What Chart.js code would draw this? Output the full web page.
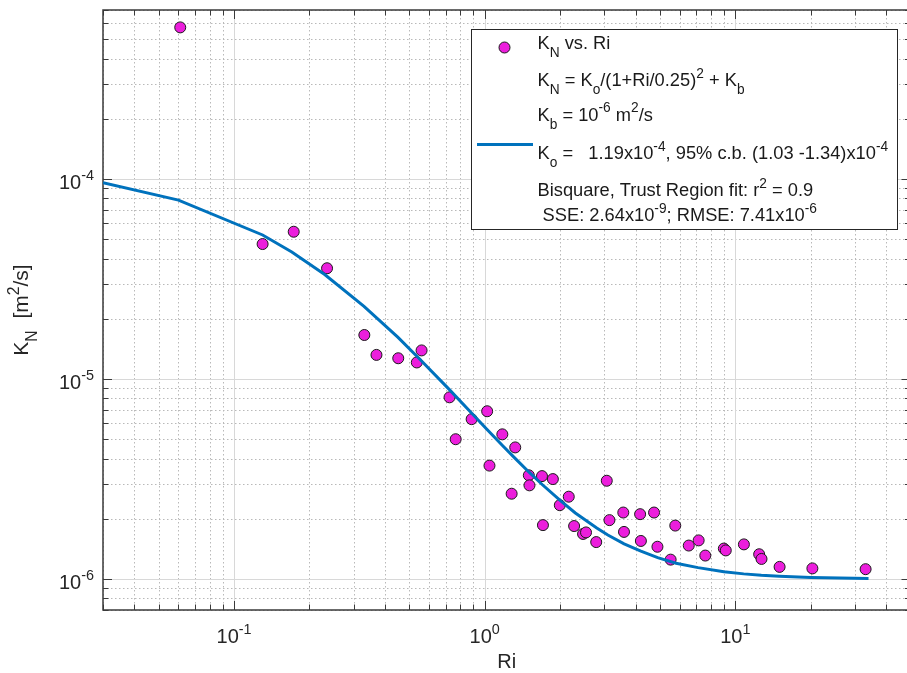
<!DOCTYPE html>
<html>
<head>
<meta charset="utf-8">
<script src="https://cdn.jsdelivr.net/npm/chart.js@4.4.1/dist/chart.umd.min.js"></script>
<style>
  html, body { margin: 0; padding: 0; background: #fff; overflow: hidden; }
  #contenedor { width: 917px; height: 673px; }
</style>
</head>
<body>
<div id="contenedor"><canvas id="graficoKN" width="917" height="673"></canvas></div>
<script>
// Mediciones: Ri y difusividad K_N [m2/s]
const ri = [0.061, 0.130, 0.173, 0.235, 0.331, 0.370, 0.452, 0.536, 0.560, 0.724,
  0.766, 0.887, 1.023, 1.045, 1.176, 1.281, 1.324, 1.50, 1.509, 1.693,
  1.708, 1.871, 1.994, 2.165, 2.274, 2.469, 2.537, 2.786, 3.07, 3.146,
  3.573, 3.596, 4.17, 4.20, 4.74, 4.89, 5.52, 5.76, 6.52, 7.14,
  7.59, 9.0, 9.16, 10.82, 12.45, 12.72, 15.02, 20.3, 33.1];
const kn = [5.73e-4, 4.73e-5, 5.45e-5, 3.58e-5, 1.66e-5, 1.32e-5, 1.27e-5, 1.21e-5, 1.39e-5, 8.1e-6,
  5.0e-6, 6.3e-6, 6.9e-6, 3.69e-6, 5.29e-6, 2.67e-6, 4.55e-6, 3.30e-6, 2.94e-6, 3.27e-6,
  1.86e-6, 3.16e-6, 2.34e-6, 2.58e-6, 1.84e-6, 1.68e-6, 1.71e-6, 1.53e-6, 3.10e-6, 1.97e-6,
  2.15e-6, 1.72e-6, 2.11e-6, 1.55e-6, 2.15e-6, 1.45e-6, 1.25e-6, 1.85e-6, 1.47e-6, 1.56e-6,
  1.31e-6, 1.42e-6, 1.39e-6, 1.49e-6, 1.33e-6, 1.26e-6, 1.15e-6, 1.13e-6, 1.12e-6];

// Curva ajustada (Bisquare)
const ajusteRi = [0.03, 0.06, 0.13, 0.17, 0.23, 0.33, 0.45, 0.55, 0.72, 0.89,
  1.02, 1.18, 1.32, 1.5, 1.7, 2.0, 2.3, 2.8, 3.1, 3.6,
  4.2, 4.9, 5.8, 7.1, 9.0, 10.8, 12.7, 15, 20, 34];
const ajusteKn = [9.59e-5, 7.84e-5, 5.25e-5, 4.32e-5, 3.33e-5, 2.31e-5, 1.62e-5, 1.26e-5, 8.9e-6, 6.72e-6,
  5.61e-6, 4.64e-6, 4.02e-6, 3.43e-6, 2.96e-6, 2.47e-6, 2.14e-6, 1.80e-6, 1.66e-6, 1.50e-6,
  1.38e-6, 1.28e-6, 1.20e-6, 1.14e-6, 1.087e-6, 1.061e-6, 1.044e-6, 1.032e-6, 1.018e-6, 1.006e-6];

// Etiquetas de los ejes (base 10, exponente)
const ticksX = [[0.1, '-1'], [1, '0'], [10, '1']];
const ticksY = [[1e-6, '-6'], [1e-5, '-5'], [1e-4, '-4']];

// Texto de la leyenda: [texto, '' | 'sub' | 'sup']
const leyendaPuntos = [['K'], ['N', 'sub'], [' vs. Ri']];
const leyendaAjuste = [
  [['K'], ['N', 'sub'], [' = K'], ['o', 'sub'], ['/(1+Ri/0.25)'], ['2', 'sup'], [' + K'], ['b', 'sub']],
  [['K'], ['b', 'sub'], [' = 10'], ['-6', 'sup'], [' m'], ['2', 'sup'], ['/s']],
  [['K'], ['o', 'sub'], [' =   1.19x10'], ['-4', 'sup'], [', 95% c.b. (1.03 -1.34)x10'], ['-4', 'sup']],
  [['Bisquare, Trust Region fit: r'], ['2', 'sup'], [' = 0.9']],
  [[' SSE: 2.64x10'], ['-9', 'sup'], ['; RMSE: 7.41x10'], ['-6', 'sup']]
];

const FUENTE = '"Liberation Sans", Arial, Helvetica, sans-serif';
const COLOR_PUNTO = '#EC1EDC';
const COLOR_AJUSTE = '#0072BD';
const COLOR_EJE = '#3a3a3a';

const setFont = (ctx, tam) => { ctx.font = `${tam}px ${FUENTE}`; };

const anchoRico = (ctx, partes, tam, esc = 0.75) => {
  let w = 0;
  partes.forEach(([t, modo]) => {
    setFont(ctx, modo ? tam * esc : tam);
    w += ctx.measureText(t).width;
  });
  return w;
};

const textoRico = (ctx, partes, x, y, tam, esc = 0.75) => {
  let cx = x;
  ctx.textAlign = 'left';
  ctx.textBaseline = 'alphabetic';
  partes.forEach(([t, modo]) => {
    setFont(ctx, modo ? tam * esc : tam);
    const dy = modo === 'sub' ? tam * 0.45 : modo === 'sup' ? -tam * 0.45 : 0;
    ctx.fillText(t, cx, y + dy);
    cx += ctx.measureText(t).width;
  });
  return cx - x;
};

// valores 1..9 x 10^n dentro del rango de la escala
const valoresLog = (min, max) => {
  const out = [];
  for (let d = Math.floor(Math.log10(min)); d <= Math.ceil(Math.log10(max)); d++) {
    for (let m = 1; m <= 9; m++) {
      const v = parseFloat((m * Math.pow(10, d)).toPrecision(3));
      if (v >= min * 0.999 && v <= max * 1.001) out.push({ v, mayor: m === 1 });
    }
  }
  return out;
};

const ejesMatlab = {
  id: 'ejesMatlab',
  beforeDatasetsDraw(chart) {
    const { ctx, chartArea: a, scales: { x, y } } = chart;
    const vx = valoresLog(x.min, x.max);
    const vy = valoresLog(y.min, y.max);
    ctx.save();

    // rejilla menor punteada
    ctx.strokeStyle = '#b9b9b9';
    ctx.lineWidth = 1;
    ctx.setLineDash([1.5, 2.5]);
    vx.filter(t => !t.mayor).forEach(t => {
      const px = Math.round(x.getPixelForValue(t.v)) + 0.5;
      ctx.beginPath(); ctx.moveTo(px, a.top); ctx.lineTo(px, a.bottom); ctx.stroke();
    });
    vy.filter(t => !t.mayor).forEach(t => {
      const py = Math.round(y.getPixelForValue(t.v)) + 0.5;
      ctx.beginPath(); ctx.moveTo(a.left, py); ctx.lineTo(a.right, py); ctx.stroke();
    });

    // rejilla mayor
    ctx.setLineDash([]);
    ctx.strokeStyle = '#d8d8d8';
    vx.filter(t => t.mayor).forEach(t => {
      const px = Math.round(x.getPixelForValue(t.v)) + 0.5;
      ctx.beginPath(); ctx.moveTo(px, a.top); ctx.lineTo(px, a.bottom); ctx.stroke();
    });
    vy.filter(t => t.mayor).forEach(t => {
      const py = Math.round(y.getPixelForValue(t.v)) + 0.5;
      ctx.beginPath(); ctx.moveTo(a.left, py); ctx.lineTo(a.right, py); ctx.stroke();
    });

    // marcas hacia dentro
    ctx.strokeStyle = COLOR_EJE;
    ctx.lineWidth = 1;
    vx.forEach(t => {
      const px = Math.round(x.getPixelForValue(t.v)) + 0.5;
      const l = t.mayor ? 9 : 5.5;
      ctx.beginPath();
      ctx.moveTo(px, a.bottom); ctx.lineTo(px, a.bottom - l);
      ctx.moveTo(px, a.top); ctx.lineTo(px, a.top + l);
      ctx.stroke();
    });
    vy.forEach(t => {
      const py = Math.round(y.getPixelForValue(t.v)) + 0.5;
      const l = t.mayor ? 9 : 5.5;
      ctx.beginPath();
      ctx.moveTo(a.left, py); ctx.lineTo(a.left + l, py);
      ctx.moveTo(a.right, py); ctx.lineTo(a.right - l, py);
      ctx.stroke();
    });

    // caja de ejes
    ctx.lineWidth = 1.5;
    ctx.strokeRect(a.left, a.top, a.right - a.left, a.bottom - a.top);

    // etiquetas de las marcas
    ctx.fillStyle = '#262626';
    const tam = 20;
    ticksX.forEach(([v, exp]) => {
      const partes = [['10'], [exp, 'sup']];
      const w = anchoRico(ctx, partes, tam, 0.72);
      textoRico(ctx, partes, x.getPixelForValue(v) - w / 2, 643, tam, 0.72);
    });
    ticksY.forEach(([v, exp]) => {
      const partes = [['10'], [exp, 'sup']];
      const w = anchoRico(ctx, partes, tam, 0.72);
      textoRico(ctx, partes, a.left - 9 - w, y.getPixelForValue(v) + 10, tam, 0.72);
    });

    // títulos de los ejes
    const tituloX = [['Ri']];
    const wx = anchoRico(ctx, tituloX, 20);
    textoRico(ctx, tituloX, (a.left + a.right) / 2 - wx / 2, 668, 20);

    const tituloY = [['K'], ['N', 'sub'], ['  [m'], ['2', 'sup'], ['/s]']];
    const wy = anchoRico(ctx, tituloY, 21);
    ctx.translate(28, (a.top + a.bottom) / 2);
    ctx.rotate(-Math.PI / 2);
    textoRico(ctx, tituloY, -wy / 2, 0, 21);
    ctx.restore();
  },
  afterDatasetsDraw(chart) {
    const { ctx } = chart;
    ctx.save();
    // caja de la leyenda
    ctx.fillStyle = '#ffffff';
    ctx.fillRect(471, 29, 426, 200);
    ctx.strokeStyle = '#262626';
    ctx.lineWidth = 1;
    ctx.strokeRect(471.5, 29.5, 426, 200);

    // símbolo de los puntos
    ctx.beginPath();
    ctx.arc(504.5, 47.5, 5.5, 0, Math.PI * 2);
    ctx.fillStyle = COLOR_PUNTO;
    ctx.fill();
    ctx.strokeStyle = '#1a1a1a';
    ctx.stroke();

    // símbolo de la curva
    ctx.beginPath();
    ctx.moveTo(477, 144.5); ctx.lineTo(533, 144.5);
    ctx.strokeStyle = COLOR_AJUSTE;
    ctx.lineWidth = 3;
    ctx.stroke();

    ctx.fillStyle = '#1a1a1a';
    const tam = 18.3;
    textoRico(ctx, leyendaPuntos, 537.5, 48.5, tam);
    const lineasY = [86, 120.5, 159, 196, 221];
    leyendaAjuste.forEach((fila, i) => textoRico(ctx, fila, 537.5, lineasY[i], tam));
    ctx.restore();
  }
};

new Chart(document.getElementById('graficoKN'), {
  type: 'scatter',
  data: {
    datasets: [
      {
        label: 'KN vs. Ri',
        data: ri.map((r, i) => ({ x: r, y: kn[i] })),
        backgroundColor: COLOR_PUNTO,
        borderColor: '#1a1a1a',
        borderWidth: 1,
        pointRadius: 5.5,
        order: 2
      },
      {
        label: 'Ajuste',
        data: ajusteRi.map((r, i) => ({ x: r, y: ajusteKn[i] })),
        showLine: true,
        borderColor: COLOR_AJUSTE,
        borderWidth: 3,
        pointRadius: 0,
        tension: 0,
        fill: false,
        order: 1
      }
    ]
  },
  options: {
    responsive: false,
    animation: false,
    events: [],
    layout: { padding: { left: 103, top: 10, right: 0, bottom: 63 } },
    plugins: { legend: { display: false }, tooltip: { enabled: false } },
    scales: {
      x: { type: 'logarithmic', min: 0.03, max: 50, display: false },
      y: { type: 'logarithmic', min: 7e-7, max: 7e-4, display: false }
    }
  },
  plugins: [ejesMatlab]
});
</script>
</body>
</html>
